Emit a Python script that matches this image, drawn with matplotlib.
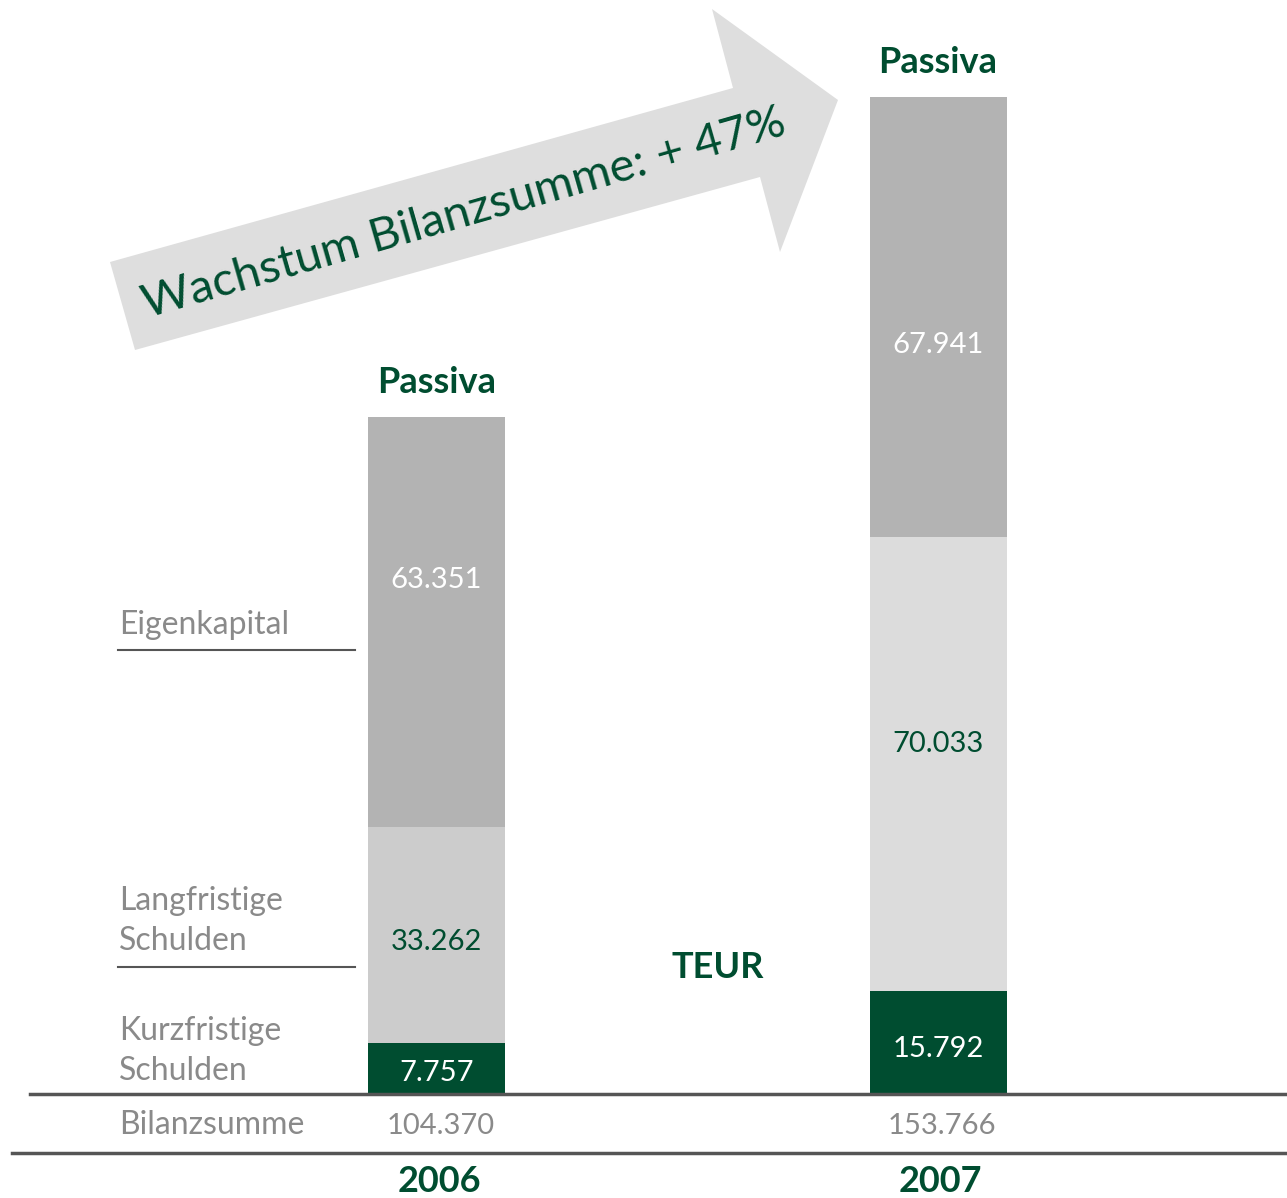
import numpy as np
import matplotlib
matplotlib.use("Agg")
import matplotlib.pyplot as plt
from matplotlib.patches import Polygon
from matplotlib.lines import Line2D

plt.rcParams['font.family'] = ['Lato', 'DejaVu Sans']

# data (TEUR)
years = ['2006', '2007']
kurzfristig = [7757, 15792]
langfristig = [33262, 70033]
eigenkapital = [63351, 67941]
bilanzsumme = [104370, 153766]
segment_names = ['Kurzfristige\nSchulden', 'Langfristige\nSchulden', 'Eigenkapital']

GREEN = '#004d30'
DARK = '#b3b3b3'
LIGHT = ['#cccccc', '#dcdcdc']
LABEL_GRAY = '#8a8a8a'
LINE = '#555555'

W, H = 1287, 1198
fig = plt.figure(figsize=(W / 100, H / 100), dpi=100)


def fx(px):
    return px / W


def fy(py):
    return 1 - py / H


# axes fills the figure; baseline at pixel row 1093
px_per_unit = 676 / bilanzsumme[0]
ax = fig.add_axes([0, 0, 1, 1])
ax.set_ylim(-(H - 1093) / px_per_unit, 1093 / px_per_unit)
spacing = 501.5
ax.set_xlim(-436.5 / spacing, 1 + (W - 938) / spacing)
ax.axis('off')

x = np.arange(len(years))
bw = 137 / spacing
kurz = np.array(kurzfristig)
lang = np.array(langfristig)
eig = np.array(eigenkapital)

ax.bar(x, kurz, bw, color=GREEN, zorder=2)
ax.bar(x, lang, bw, bottom=kurz, color=LIGHT, zorder=2)
ax.bar(x, eig, bw, bottom=kurz + lang, color=DARK, zorder=2)

fs = 21
# vertical nudges of the value labels (points), per year: kurz, lang, eig
nudge = [(-4, -5, 30), (-5, 14, -20)]


def fmt(v):
    return f"{v:,}".replace(',', '.')


for i in range(len(years)):
    dk, dl, de = nudge[i]
    ax.annotate(fmt(kurzfristig[i]), (x[i], kurz[i] / 2), xytext=(0, dk),
                textcoords='offset points', ha='center', va='center',
                color='white', fontsize=fs, zorder=3)
    ax.annotate(fmt(langfristig[i]), (x[i], kurz[i] + lang[i] / 2), xytext=(0, dl),
                textcoords='offset points', ha='center', va='center',
                color=GREEN, fontsize=fs, zorder=3)
    ax.annotate(fmt(eigenkapital[i]), (x[i], kurz[i] + lang[i] + eig[i] / 2),
                xytext=(0, de), textcoords='offset points', ha='center',
                va='center', color='white', fontsize=fs, zorder=3)
    top = kurz[i] + lang[i] + eig[i]
    ax.annotate('Passiva', (x[i], top), xytext=(0, 25), textcoords='offset points',
                ha='center', va='center', color=GREEN, fontsize=26, fontweight='bold')
    ax.annotate(fmt(bilanzsumme[i]), (x[i], 0), xytext=(3, -24),
                textcoords='offset points', ha='center', va='center',
                color=LABEL_GRAY, fontsize=fs)
    ax.annotate(years[i], (x[i], 0), xytext=(2, -64), textcoords='offset points',
                ha='center', va='center', color=GREEN, fontsize=26, fontweight='bold')

# left-hand labels
lfs = 23
fig.text(fx(119), fy(625), segment_names[2], ha='left', va='center',
         color=LABEL_GRAY, fontsize=lfs)
fig.text(fx(119), fy(921), segment_names[1], ha='left', va='center',
         color=LABEL_GRAY, fontsize=lfs, linespacing=1.4)
fig.text(fx(119), fy(1051), segment_names[0], ha='left', va='center',
         color=LABEL_GRAY, fontsize=lfs, linespacing=1.4)
fig.text(fx(119), fy(1125), 'Bilanzsumme', ha='left', va='center',
         color=LABEL_GRAY, fontsize=lfs)
fig.text(fx(718), fy(968), 'TEUR', ha='center', va='center',
         color=GREEN, fontsize=26, fontweight='bold')

# rules
for (x0, x1, y, lw) in [(118, 355, 650, 1.5), (118, 355, 967, 1.5),
                        (30, W, 1094, 2.5), (12, W, 1153, 2.5)]:
    fig.add_artist(Line2D([fx(x0), fx(x1)], [fy(y), fy(y)], color=LINE, lw=lw))

# growth arrow
arrow_px = [(110, 262), (733, 88), (712, 9), (838, 100), (780, 252),
            (760, 177), (135, 350)]
fig.add_artist(Polygon([(fx(a), fy(b)) for a, b in arrow_px], closed=True,
                       facecolor='#dedede', edgecolor='none', zorder=1))
fig.text(fx(464), fy(214), 'Wachstum Bilanzsumme: + 47%', rotation=16,
         rotation_mode='anchor', ha='center', va='center', color=GREEN, fontsize=34,
         zorder=2)

fig.savefig('out.png', dpi=100)
